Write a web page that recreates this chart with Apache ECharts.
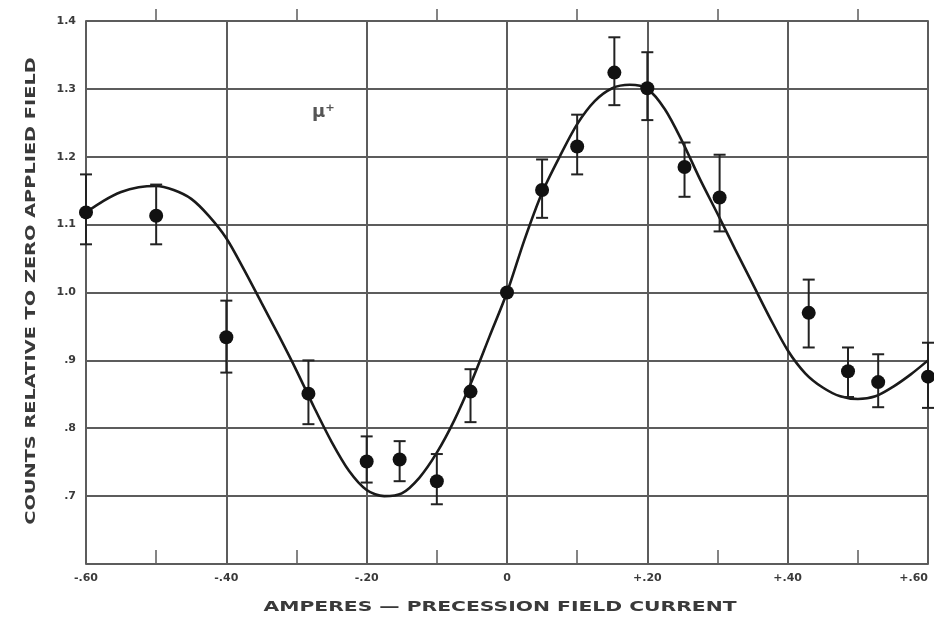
<!DOCTYPE html>
<html><head><meta charset="utf-8">
<script src="https://cdn.jsdelivr.net/npm/echarts@6/dist/echarts.min.js"></script>
<style>html,body{margin:0;padding:0;background:#fff}#c{width:934px;height:619px}</style>
</head><body><div id="c"></div>
<script>
// Measured data points (current in amperes, relative counts) with error bars
const pointX = [-0.60,-0.50,-0.40,-0.283,-0.20,-0.153,-0.10,-0.052,0.00,0.05,0.10,0.153,0.20,0.253,0.303,0.43,0.486,0.529,0.60];
const pointY = [1.118,1.113,0.934,0.851,0.751,0.754,0.722,0.854,1.000,1.151,1.215,1.324,1.301,1.185,1.140,0.970,0.884,0.868,0.876];
const errLow = [1.071,1.071,0.882,0.806,0.720,0.722,0.688,0.809,1.000,1.110,1.174,1.276,1.254,1.141,1.090,0.919,0.846,0.831,0.830];
const errHigh = [1.174,1.159,0.988,0.900,0.788,0.781,0.762,0.887,1.000,1.196,1.262,1.376,1.354,1.221,1.203,1.019,0.919,0.909,0.926];

// Fitted curve
const curveX = [-0.60,-0.575,-0.55,-0.525,-0.50,-0.475,-0.45,-0.425,-0.40,-0.375,-0.35,-0.325,-0.30,-0.275,-0.25,-0.225,-0.20,-0.175,-0.15,-0.125,-0.10,-0.075,-0.05,-0.025,0.00,0.025,0.05,0.075,0.10,0.125,0.15,0.175,0.20,0.225,0.25,0.275,0.30,0.325,0.35,0.375,0.40,0.425,0.45,0.475,0.50,0.525,0.55,0.575,0.60];
const curveY = [1.118,1.135,1.148,1.155,1.157,1.151,1.138,1.113,1.080,1.034,0.985,0.936,0.885,0.831,0.780,0.737,0.709,0.700,0.704,0.727,0.764,0.812,0.870,0.935,1.000,1.078,1.147,1.200,1.248,1.282,1.301,1.306,1.300,1.270,1.222,1.167,1.116,1.064,1.013,0.962,0.915,0.881,0.860,0.847,0.843,0.847,0.861,0.879,0.900];

// Tick labels
const xTickValues = [-0.6,-0.4,-0.2,0,0.2,0.4,0.6];
const xTickLabels = ['-.60','-.40','-.20','0','+.20','+.40','+.60'];
const yTickValues = [0.6,0.7,0.8,0.9,1.0,1.1,1.2,1.3,1.4];
const yTickLabels = ['','.7','.8','.9','1.0','1.1','1.2','1.3','1.4'];

const xTitle = 'AMPERES — PRECESSION FIELD CURRENT';
const yTitle = 'COUNTS RELATIVE TO ZERO APPLIED FIELD';

function lookup(vals, labels, v){
  for (let i=0;i<vals.length;i++) if (Math.abs(vals[i]-v)<1e-6) return labels[i];
  return '';
}

const gridColor = '#5c5c5c';
const textColor = '#3a3a3a';
const font = 'DejaVu Sans';

const chart = echarts.init(document.getElementById('c'), null, {renderer:'canvas'});
const errData = pointX.map((x,i)=>[x, errLow[i], errHigh[i]]);
const ptData = pointX.map((x,i)=>[x, pointY[i]]);
const curveData = curveX.map((x,i)=>[x, curveY[i]]);

chart.setOption({
  backgroundColor:'#fff',
  animation:false,
  grid:{left:86, right:6, top:21, bottom:55, containLabel:false},
  xAxis:[{
    type:'value', min:-0.6, max:0.6, interval:0.2,
    axisLine:{show:true, lineStyle:{color:gridColor, width:2}},
    axisTick:{show:true, inside:true, length:12, lineStyle:{color:gridColor, width:1.5}},
    minorTick:{show:true, splitNumber:2, length:14, lineStyle:{color:gridColor, width:1.5}},
    splitLine:{show:true, lineStyle:{color:gridColor, width:2}},
    axisLabel:{margin:9, color:textColor, fontFamily:font, fontWeight:'bold', fontSize:11,
      alignMaxLabel:'right', formatter:v=>lookup(xTickValues,xTickLabels,v)}
  },{
    type:'value', min:-0.6, max:0.6, interval:0.2, position:'top', gridIndex:0,
    axisLine:{show:true, lineStyle:{color:gridColor, width:2}},
    axisTick:{show:false},
    minorTick:{show:true, splitNumber:2, length:12, lineStyle:{color:gridColor, width:1.5}},
    splitLine:{show:false},
    axisLabel:{show:false}
  }],
  yAxis:{
    type:'value', min:0.6, max:1.4, interval:0.1,
    axisLine:{show:true, lineStyle:{color:gridColor, width:2}},
    axisTick:{show:false},
    splitLine:{show:true, lineStyle:{color:gridColor, width:2}},
    axisLabel:{margin:10, color:textColor, fontFamily:font, fontWeight:'bold', fontSize:11,
      formatter:v=>lookup(yTickValues,yTickLabels,v)}
  },
  graphic:[{
    type:'text', left:312, top:103,
    style:{text:'μ⁺', fill:'#555', font:'bold 18px "DejaVu Sans"'}
  },{
    type:'text', x:500, y:607, scaleX:1.45,
    style:{text:xTitle, fill:textColor, font:'bold 14px "DejaVu Sans"', align:'center', verticalAlign:'middle'}
  },{
    type:'text', x:31, y:291, rotation:Math.PI/2, scaleX:1.38,
    style:{text:yTitle, fill:textColor, font:'bold 14px "DejaVu Sans"', align:'center', verticalAlign:'middle'}
  }],
  series:[
    {
      type:'line', data:curveData, smooth:0.3, showSymbol:false, symbol:'none',
      lineStyle:{color:'#1a1a1a', width:2.6}, z:3, silent:true
    },
    {
      type:'custom', data:errData, z:4, clip:false,
      renderItem:(params, api)=>{
        const x=api.value(0), lo=api.value(1), hi=api.value(2);
        const a=api.coord([x,hi]), b=api.coord([x,lo]);
        const w=6, st={stroke:'#222', lineWidth:2};
        return {type:'group', children:[
          {type:'line', shape:{x1:a[0],y1:a[1],x2:b[0],y2:b[1]}, style:st},
          {type:'line', shape:{x1:a[0]-w,y1:a[1],x2:a[0]+w,y2:a[1]}, style:st},
          {type:'line', shape:{x1:b[0]-w,y1:b[1],x2:b[0]+w,y2:b[1]}, style:st}
        ]};
      }
    },
    {
      type:'scatter', data:ptData, symbol:'circle', symbolSize:14, z:5, clip:false,
      itemStyle:{color:'#111', opacity:1}
    }
  ]
});
</script>
</body></html>
